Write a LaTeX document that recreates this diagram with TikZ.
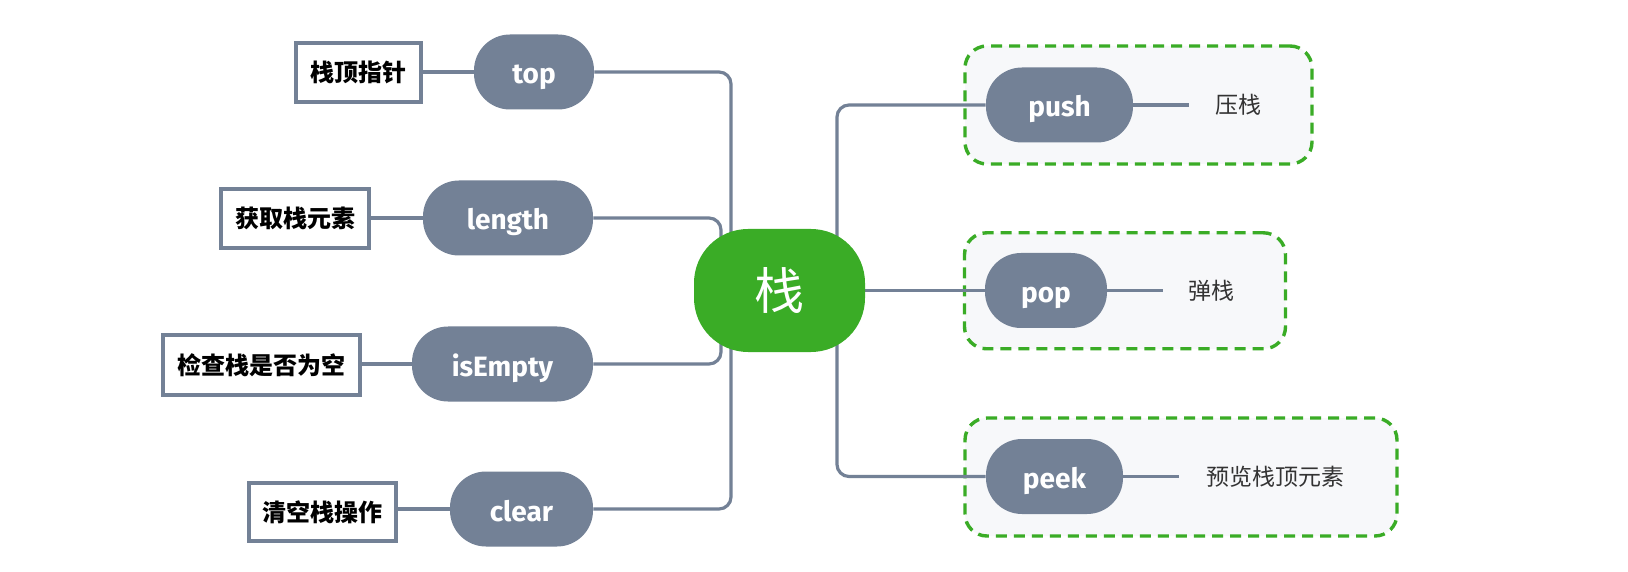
\documentclass[tikz,border=0pt]{standalone}
\usepackage{fontspec}
\setmainfont{Fira Sans}
\newfontfamily\cjk{Noto Sans CJK SC}
\definecolor{gnode}{RGB}{115,129,150}
\definecolor{mgreen}{RGB}{58,172,38}
\definecolor{boxfill}{RGB}{247,248,250}
\definecolor{txt}{RGB}{51,51,51}
\pgfdeclarelayer{back}
\pgfdeclarelayer{mid}
\pgfsetlayers{back,mid,main}
\begin{document}
\begin{tikzpicture}[x=0.5pt,y=-0.5pt,
 pill/.style={fill=gnode, rounded corners=18pt, minimum height=37.5pt, inner sep=0pt, text height=12pt, text depth=0pt, text=white, font=\fontsize{14}{16}\selectfont\bfseries},
 lbl/.style={draw=gnode, line width=1.75pt, fill=white, inner sep=0pt, font=\cjk\bfseries\fontsize{12}{14}\selectfont},
 conn/.style={draw=gnode, line width=1.6pt, rounded corners=6pt},
 grp/.style={draw=mgreen, line width=1.7pt, dash pattern=on 5.5pt off 3.5pt, fill=boxfill, rounded corners=11pt, inner sep=0pt},
 desc/.style={text=txt, font=\cjk\fontsize{11.5}{13}\selectfont, inner sep=0pt}]
\useasboundingbox (0,0) rectangle (1628,572);
\begin{pgfonlayer}{back}
\fill[white] (0,0) rectangle (1628,572);
\node[grp, minimum width=173.5pt, minimum height=59pt] (gpush) at (1138.5,105) {};
\node[grp, minimum width=160.5pt, minimum height=58pt] (gpop) at (1125,290.8) {};
\node[grp, minimum width=216pt, minimum height=59pt] (gpeek) at (1181,477) {};
\end{pgfonlayer}
% center
\node[fill=mgreen, rounded corners=27pt, minimum width=85.5pt, minimum height=61.5pt, inner sep=0pt, text=white, font=\cjk\fontsize{25}{30}\selectfont] (c) at (779.5,290.5) {栈};
% left pills
\node[pill, minimum width=60pt] (top) at (534,72) {top};
\node[pill, minimum width=85pt] (length) at (508,218) {length};
\node[pill, minimum width=90.5pt] (isEmpty) at (502.5,364) {isEmpty};
\node[pill, minimum width=71.5pt] (clear) at (521.5,509) {clear};
% left labels
\node[lbl, minimum width=62.7pt, minimum height=29.7pt] (b1) at (358.5,72.5) {栈顶指针};
\node[lbl, minimum width=74.2pt, minimum height=29.7pt] (b2) at (295,218.5) {获取栈元素};
\node[lbl, minimum width=98.7pt, minimum height=30.2pt] (b3) at (261.5,365) {检查栈是否为空};
\node[lbl, minimum width=73.7pt, minimum height=29.2pt] (b4) at (322.5,512) {清空栈操作};
% right pills
\node[pill, minimum width=73.5pt] (push) at (1059.5,105) {push};
\node[pill, minimum width=61pt] (pop) at (1046,290.5) {pop};
\node[pill, minimum width=68.5pt] (peek) at (1054.5,476.5) {peek};
% right descriptions
\node[desc] (dpush) at (1238,105) {压栈};
\node[desc] (dpop) at (1211,291) {弹栈};
\node[desc] (dpeek) at (1275.6,477) {预览栈顶元素};
% coordinates
\coordinate (lt) at (731,291);
\coordinate (li) at (721,291);
\coordinate (rt) at (837,291);
\coordinate (epush) at (1189,105);
\coordinate (epop) at (1163,290.5);
\coordinate (epeek) at (1179,476.5);
\begin{pgfonlayer}{mid}
\draw[conn] (top.east) -| (lt);
\draw[conn] (clear.east) -| (lt);
\draw[conn] (length.east) -| (li);
\draw[conn] (isEmpty.east) -| (li);
\draw[conn] (top.west -| b1.east) -- (top.west);
\draw[conn] (length.west -| b2.east) -- (length.west);
\draw[conn] (isEmpty.west -| b3.east) -- (isEmpty.west);
\draw[conn] (clear.west -| b4.east) -- (clear.west);
\draw[conn] (rt) |- (push.west);
\draw[conn] (rt) |- (peek.west);
\draw[conn] (c.east) -- (pop.west);
\draw[conn] (push.east) -- (epush);
\draw[conn] (pop.east) -- (epop);
\draw[conn] (peek.east) -- (epeek);
\end{pgfonlayer}
\end{tikzpicture}
\end{document}
